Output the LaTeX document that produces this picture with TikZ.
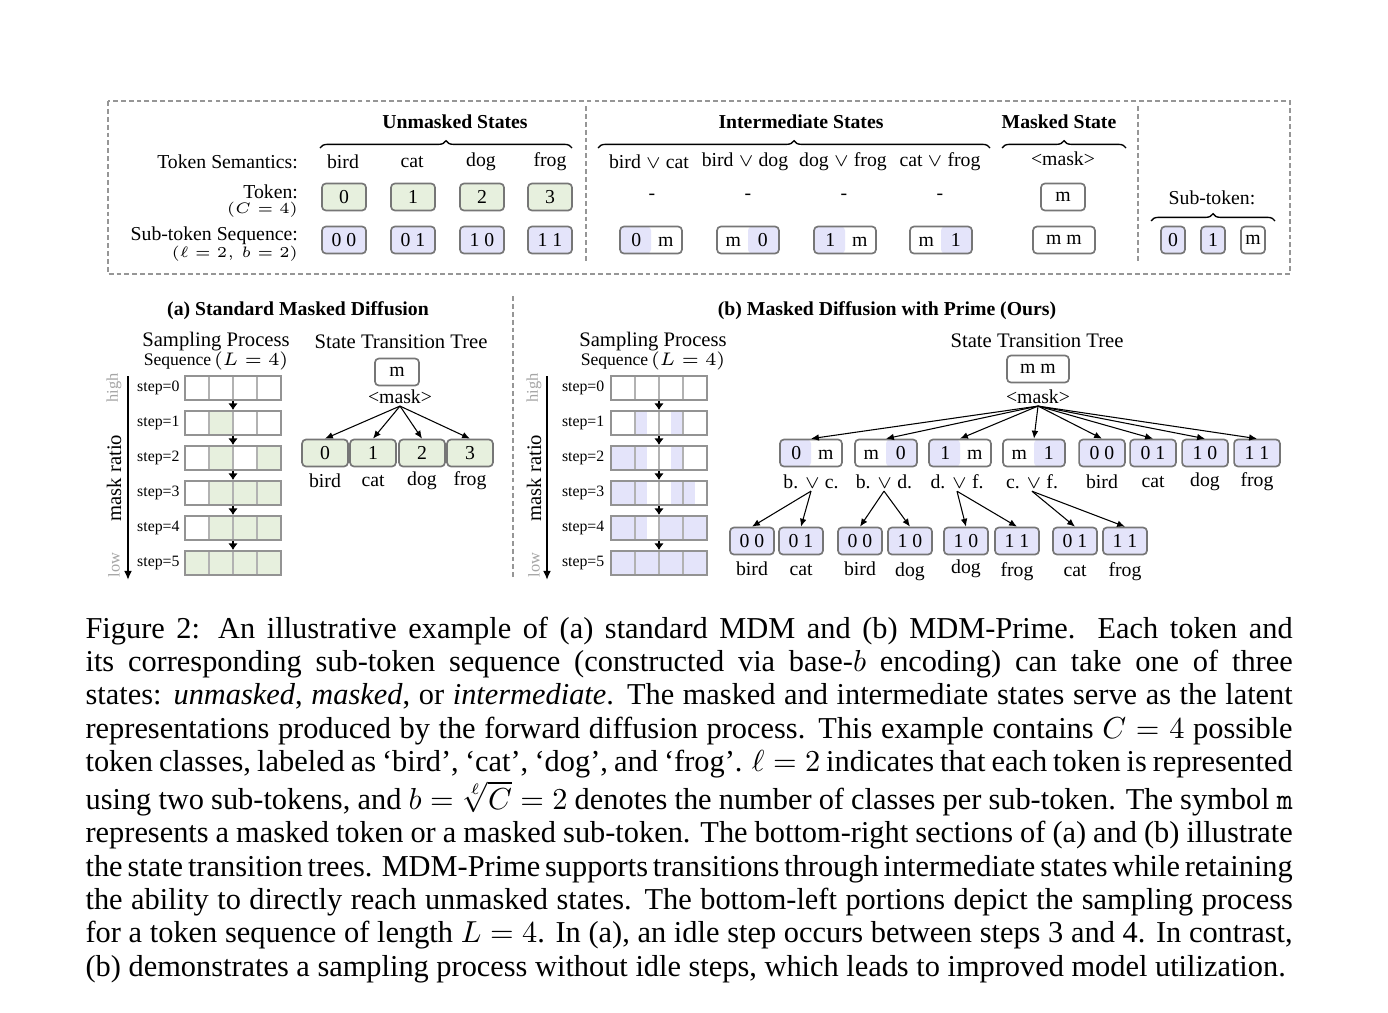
\documentclass[tikz,border=0pt]{standalone}
\usepackage{fontspec}
\setmainfont{Liberation Serif}
\usepackage{amsmath}
\usetikzlibrary{arrows.meta,decorations.pathreplacing,calc}
\definecolor{tokgreen}{RGB}{231,240,222}
\definecolor{subpurple}{RGB}{228,228,250}
\definecolor{boxgray}{RGB}{118,118,118}
\definecolor{dashgray}{RGB}{150,150,150}
\definecolor{softgray}{RGB}{165,165,165}
\newcommand{\fs}{\fontsize{6.5}{7.5}\selectfont}
\newcommand{\fsb}{\fontsize{6.8}{7.8}\selectfont}
\newcommand{\fss}{\fontsize{5.4}{6.2}\selectfont}
\newcommand{\fsq}{\fontsize{5.8}{6.6}\selectfont}
\newcommand{\halves}[2]{\makebox[9.7pt]{#1}\makebox[9.7pt]{#2}}

\begin{document}
\begin{tikzpicture}[x=0.3293pt, y=-0.3293pt,
    lbl/.style={font=\fs, inner sep=0.5pt},
    tlbl/.style={font=\fsb, inner sep=0.5pt},
    small/.style={font=\fss, inner sep=0.5pt},
    steplbl/.style={font=\fontsize{5.2}{6}\selectfont, inner sep=0.5pt, anchor=east},
    head/.style={font=\fs\bfseries, inner sep=0.5pt},
    tok/.style={draw=boxgray, line width=0.55pt, rounded corners=1.3pt, minimum width=14.5pt,
                minimum height=8.9pt, inner sep=0pt, font=\fs},
    gtok/.style={tok, fill=tokgreen},
    ptok/.style={tok, fill=subpurple},
    wtok/.style={tok, fill=white},
    wide/.style={minimum width=20.4pt},
    lhalf/.style={wtok, wide, path picture={\fill[subpurple] (path picture bounding box.south west) rectangle (path picture bounding box.north);}},
    rhalf/.style={wtok, wide, path picture={\fill[subpurple] (path picture bounding box.south) rectangle (path picture bounding box.north east);}},
    rowbox/.style={draw=gray!85, line width=0.65pt, minimum width=31.6pt, minimum height=7.9pt, inner sep=0pt},
    cellline/.style={draw=gray!60, line width=0.35pt},
    brace/.style={decorate, decoration={brace, amplitude=2.4pt}, line width=0.45pt},
    sep/.style={draw=dashgray, dash pattern=on 1.6pt off 1pt, line width=0.4pt},
    tarrow/.style={-{Latex[length=2.6pt,width=2.2pt]}, line width=0.35pt},
    sarrow/.style={-{Latex[length=2.2pt,width=3.2pt]}, line width=0.8pt},
    ratio/.style={-{Latex[length=3pt,width=2.6pt]}, line width=0.6pt}
]
\useasboundingbox[fill=white] (0,0) rectangle (1388,1012);

% top panel: token states
\draw[sep] (108,101) rectangle (1290,274);
\draw[sep] (586,106) -- (586,262);
\draw[sep] (1138,106) -- (1138,262);

\node[head] (hunm) at (455,122) {Unmasked States};
\node[head] (hint) at (801,122) {Intermediate States};
\node[head] (hmsk) at (1059,122) {Masked State};
\draw[brace] (320,148) -- (572,148);
\draw[brace] (598,148) -- (990,148);
\draw[brace] (1002,148) -- (1126,148);

\node[lbl, anchor=east] (lsem) at (300,162) {Token Semantics:};
\node[lbl, anchor=east] (ltok) at (300,192) {Token:};
\node[small, anchor=east] at (300,210) {$(C=4)$};
\node[lbl, anchor=east] (lsub) at (300,236) {Sub-token Sequence:};
\node[small, anchor=east] at (300,254) {$(\ell=2,\, b=2)$};

\node[lbl] at (343,162) {bird};
\node[lbl] at (412,162) {cat};
\node[lbl] at (481,162) {dog};
\node[lbl] at (550,162) {frog};
\node[lbl] at (649,162) {bird $\vee$ cat};
\node[lbl] at (745,162) {bird $\vee$ dog};
\node[lbl] at (843,162) {dog $\vee$ frog};
\node[lbl] at (940,162) {cat $\vee$ frog};
\node[lbl] at (1063,159) {\textless mask\textgreater};

\node[gtok] (t0) at (344,197) {0};
\node[gtok] (t1) at (413,197) {1};
\node[gtok] (t2) at (482,197) {2};
\node[gtok] (t3) at (550,197) {3};
\node[lbl] at (652,197) {-};
\node[lbl] at (748,197) {-};
\node[lbl] at (844,197) {-};
\node[lbl] at (940,197) {-};
\node[wtok] (tm) at (1063,197) {m};

\node[ptok] (s00) at (344,240) {0 0};
\node[ptok] (s01) at (413,240) {0 1};
\node[ptok] (s10) at (482,240) {1 0};
\node[ptok] (s11) at (550,240) {1 1};
\node[lhalf] (s0m) at (651,240) {\halves{0}{m}};
\node[rhalf] (sm0) at (748,240) {\halves{m}{0}};
\node[lhalf] (s1m) at (845,240) {\halves{1}{m}};
\node[rhalf] (sm1) at (941,240) {\halves{m}{1}};
\node[wtok, wide] (smm) at (1064,240) {m m};

\node[lbl] (lsubtok) at (1212,198) {Sub-token:};
\draw[brace] (1151,221) -- (1275,221);
\node[ptok, minimum width=7.9pt] (u0) at (1173,240) {0};
\node[ptok, minimum width=7.9pt] (u1) at (1213,240) {1};
\node[wtok, minimum width=7.9pt] (um) at (1253,240) {m};

% bottom panels
\draw[sep] (513,296) -- (513,580);
\node[head] at (298,311) {(a) Standard Masked Diffusion};
\node[head] at (887,311) {(b) Masked Diffusion with Prime (Ours)};

% (a) sampling process
\node[tlbl] at (216,342) {Sampling Process};
\node[font=\fsq, inner sep=0.5pt] at (216,361) {Sequence\,$(L=4)$};
\coordinate (ahi) at (128,376);
\coordinate (alo) at (128,580);
\draw[ratio] (ahi) -- (alo);
\node[small, rotate=90, text=softgray] at (114,388) {high};
\node[tlbl, rotate=90] at (114,478) {mask ratio};
\node[small, rotate=90, text=softgray] at (114,565) {low};
\foreach \r/\c in {1/2,2/2,2/4,3/2,3/3,3/4,4/2,4/3,4/4,5/1,5/2,5/3,5/4}
  \fill[tokgreen] (161+24*\c, 376+35*\r) rectangle ++(24,24);
\foreach \r in {0,...,5} {
  \foreach \xx in {209,233,257} \draw[cellline] (\xx, 376+35*\r) -- ++(0,24);
  \node[rowbox] (ar\r) at (233, 388+35*\r) {};
  \node[steplbl] at ([xshift=-0.8pt]ar\r.west) {step=\r};
}
\foreach \r/\n in {0/1,1/2,2/3,3/4,4/5}
  \draw[sarrow] (ar\r.south) -- (ar\n.north);

% (a) state transition tree
\node[tlbl] at (401,342) {State Transition Tree};
\node[wtok] (aroot) at (397,372) {m};
\node[lbl] (amask) at (400,397) {\textless mask\textgreater};
\node[gtok, minimum width=15.1pt] (a0) at (325,453) {0};
\node[gtok, minimum width=15.1pt] (a1) at (373,453) {1};
\node[gtok, minimum width=15.1pt] (a2) at (422,453) {2};
\node[gtok, minimum width=15.1pt] (a3) at (470,453) {3};
\node[lbl] at (325,481) {bird};
\node[lbl] at (373,481) {cat};
\node[lbl] at (422,481) {dog};
\node[lbl] at (470,481) {frog};
\foreach \k in {0,...,3}
  \draw[tarrow] (amask.south) -- (a\k.north);

% (b) sampling process
\node[tlbl] at (653,342) {Sampling Process};
\node[font=\fsq, inner sep=0.5pt] at (653,361) {Sequence\,$(L=4)$};
\coordinate (bhi) at (547,376);
\coordinate (blo) at (547,580);
\draw[ratio] (bhi) -- (blo);
\node[small, rotate=90, text=softgray] at (534,388) {high};
\node[tlbl, rotate=90] at (534,478) {mask ratio};
\node[small, rotate=90, text=softgray] at (534,565) {low};
\foreach \r/\h in {1/3,1/6,2/1,2/2,2/3,2/6,3/1,3/2,3/3,3/6,3/7,4/1,4/2,4/3,4/5,4/6,4/7,4/8,
                   5/1,5/2,5/3,5/4,5/5,5/6,5/7,5/8}
  \fill[subpurple] (599+12*\h, 376+35*\r) rectangle ++(12,24);
\foreach \r in {0,...,5} {
  \foreach \xx in {635,659,683} \draw[cellline] (\xx, 376+35*\r) -- ++(0,24);
  \node[rowbox] (br\r) at (659, 388+35*\r) {};
  \node[steplbl] at ([xshift=-1.2pt]br\r.west) {step=\r};
}
\foreach \r/\n in {0/1,1/2,2/3,3/4,4/5}
  \draw[sarrow] (br\r.south) -- (br\n.north);

% (b) state transition tree
\node[tlbl] at (1037,341) {State Transition Tree};
\node[wtok, wide] (broot) at (1038,369) {m m};
\node[lbl] (bmask) at (1038,397) {\textless mask\textgreater};

\node[lhalf] (b1) at (811,453) {\halves{0}{m}};
\node[rhalf] (b2) at (886,453) {\halves{m}{0}};
\node[lhalf] (b3) at (960,453) {\halves{1}{m}};
\node[rhalf] (b4) at (1034,453) {\halves{m}{1}};
\node[ptok, minimum width=15.1pt] (b5) at (1102,453) {0 0};
\node[ptok, minimum width=15.1pt] (b6) at (1153,453) {0 1};
\node[ptok, minimum width=15.1pt] (b7) at (1205,453) {1 0};
\node[ptok, minimum width=15.1pt] (b8) at (1257,453) {1 1};
\node[lbl] (c1) at (811,482) {b. $\vee$ c.};
\node[lbl] (c2) at (884,482) {b. $\vee$ d.};
\node[lbl] (c3) at (957,482) {d. $\vee$ f.};
\node[lbl] (c4) at (1032,482) {c. $\vee$ f.};
\node[lbl] (c5) at (1102,482) {bird};
\node[lbl] (c6) at (1153,482) {cat};
\node[lbl] (c7) at (1205,482) {dog};
\node[lbl] (c8) at (1257,482) {frog};
\foreach \k in {1,...,8}
  \draw[tarrow] (bmask.south) -- (b\k.north);

\node[ptok] (d1) at (752,541) {0 0};
\node[ptok] (d2) at (801,541) {0 1};
\node[ptok] (d3) at (860,541) {0 0};
\node[ptok] (d4) at (910,541) {1 0};
\node[ptok] (d5) at (966,541) {1 0};
\node[ptok] (d6) at (1017,541) {1 1};
\node[ptok] (d7) at (1075,541) {0 1};
\node[ptok] (d8) at (1125,541) {1 1};
\node[lbl] at (752,569) {bird};
\node[lbl] at (801,570) {cat};
\node[lbl] at (860,569) {bird};
\node[lbl] at (910,572) {dog};
\node[lbl] at (966,569) {dog};
\node[lbl] at (1017,572) {frog};
\node[lbl] at (1075,571) {cat};
\node[lbl] at (1125,572) {frog};
\draw[tarrow] (c1.south) -- (d1.north);
\draw[tarrow] (c1.south) -- (d2.north);
\draw[tarrow] (c2.south) -- (d3.north);
\draw[tarrow] (c2.south) -- (d4.north);
\draw[tarrow] (c3.south) -- (d5.north);
\draw[tarrow] (c3.south) -- (d6.north);
\draw[tarrow] (c4.south) -- (d7.north);
\draw[tarrow] (c4.south) -- (d8.north);

% caption
\node[anchor=north west, inner sep=0pt, text width=397.5pt, align=justify,
      font=\fontsize{10}{11}\selectfont] (cap) at (85,616) {%
\spaceskip=0.25em plus 0.2em minus 0.12em\hyphenpenalty=10000\lineskiplimit=-1pt
Figure 2: An illustrative example of (a) standard MDM and (b) MDM-Prime. Each token and\linebreak
its corresponding sub-token sequence (constructed via base-$b$ encoding) can take one of three\linebreak
states: \emph{unmasked}, \emph{masked}, or \emph{intermediate}. The masked and intermediate states serve as the latent\linebreak
representations produced by the forward diffusion process. This example contains $C=4$ possible\linebreak
token classes, labeled as `bird', `cat', `dog', and `frog'. $\ell=2$ indicates that each token is represented\linebreak
using two sub-tokens, and $b=\sqrt[\ell]{C}=2$ denotes the number of classes per sub-token. The symbol \texttt{m}\linebreak
represents a masked token or a masked sub-token. The bottom-right sections of (a) and (b) illustrate\linebreak
the state transition trees. MDM-Prime supports transitions through intermediate states while retaining\linebreak
the ability to directly reach unmasked states. The bottom-left portions depict the sampling process\linebreak
for a token sequence of length $L=4$. In (a), an idle step occurs between steps 3 and 4. In contrast,\linebreak
(b) demonstrates a sampling process without idle steps, which leads to improved model utilization.};
\end{tikzpicture}
\end{document}
